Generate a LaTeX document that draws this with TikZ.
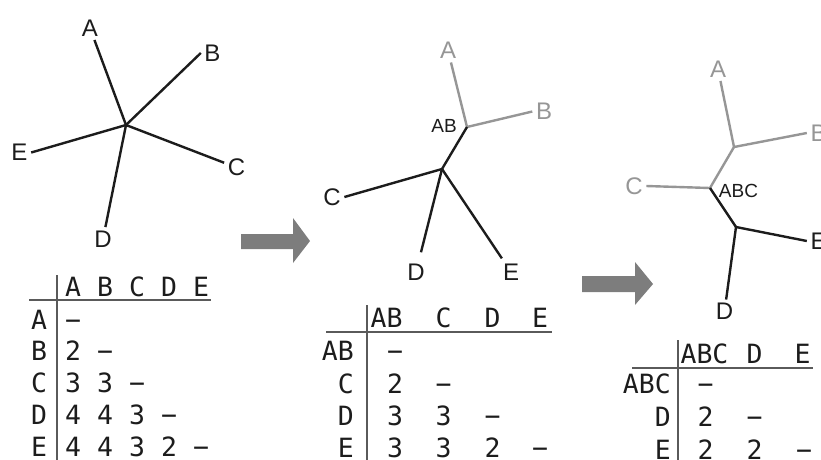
\documentclass[tikz,border=0pt]{standalone}
\usepackage{fontspec}
\setmainfont{Liberation Sans}
\newfontfamily\tabfont{DejaVu Sans Mono}
\definecolor{tgray}{RGB}{150,150,150}
\definecolor{agray}{RGB}{125,125,125}
\definecolor{ink}{RGB}{28,28,28}
\definecolor{rulegray}{RGB}{90,90,90}
\newcommand{\dsh}{\char"2212}
\begin{document}
\begin{tikzpicture}[x=1pt,y=-1pt,
  lbl/.style={font=\fontsize{24}{26}\selectfont, inner sep=3.5pt, text=ink},
  glbl/.style={lbl, text=tgray},
  slbl/.style={font=\fontsize{19}{21}\selectfont, inner sep=0pt, text=ink},
  edge/.style={line width=2.4pt, draw=ink},
  gedge/.style={line width=2.4pt, draw=tgray},
  cell/.style={font=\fontsize{26.5}{28}\selectfont\tabfont, inner sep=0pt, text height=19pt, text depth=0pt, text=ink},
  rcell/.style={cell, anchor=east},
  tabrule/.style={line width=2.2pt, draw=rulegray},
  bigarrow/.style={fill=agray}]
\useasboundingbox (0,0) rectangle (821,459);

% ---------- tree 1 ----------
\coordinate (j1) at (126,125);
\node[lbl] (a1) at (90,28) {A};
\node[lbl] (b1) at (212.5,53) {B};
\node[lbl] (e1) at (19.5,152.5) {E};
\node[lbl] (c1) at (236.5,167.5) {C};
\node[lbl] (d1) at (103,239) {D};
\draw[edge] (j1) -- (a1);
\draw[edge] (j1) -- (b1.west);
\draw[edge] (j1) -- (e1.east);
\draw[edge] (j1) -- (c1);
\draw[edge] (j1) -- (d1);

% ---------- arrow 1 ----------
\fill[bigarrow] (241,234) -- (293,234) -- (293,218) -- (310,241) -- (293,263) -- (293,249) -- (241,249) -- cycle;

% ---------- tree 2 ----------
\coordinate (j2) at (442,169);
\coordinate (jab2) at (467,127);
\node[glbl] (a2) at (448,50.5) {A};
\node[glbl] (b2) at (544,111.5) {B};
\node[lbl] (c2) at (332,197) {C};
\node[lbl] (d2) at (416,272) {D};
\node[lbl] (e2) at (511,272) {E};
\node[slbl] (ab2) at (444,126) {AB};
\draw[gedge] (jab2) -- (a2);
\draw[gedge] (jab2) -- (b2.west);
\draw[edge] (j2) -- (jab2);
\draw[edge] (j2) -- (c2.east);
\draw[edge, shorten >=8pt] (j2) -- (d2);
\draw[edge, shorten >=2pt] (j2) -- (e2);

% ---------- arrow 2 ----------
\fill[bigarrow] (582,276) -- (635,276) -- (635,262) -- (653,284) -- (635,305) -- (635,292) -- (582,292) -- cycle;

% ---------- tree 3 ----------
\coordinate (jab3) at (734,147);
\coordinate (jabc3) at (710,188);
\coordinate (jde3) at (736,227);
\node[glbl] (a3) at (718,69) {A};
\node[glbl] (b3) at (818.5,133) {B};
\node[glbl] (c3) at (634,186) {C};
\node[lbl] (e3) at (818.5,241) {E};
\node[lbl] (d3) at (724.5,311.5) {D};
\node[slbl] (abc3) at (738.5,191) {ABC};
\draw[gedge] (jab3) -- (a3);
\draw[gedge] (jab3) -- (b3.west);
\draw[gedge] (jabc3) -- (jab3);
\draw[gedge] (jabc3) -- (c3.east);
\draw[edge] (jabc3) -- (jde3);
\draw[edge] (jde3) -- (e3.west);
\draw[edge] (jde3) -- (d3);

% ---------- table 1 ----------
\draw[tabrule] (57,275) -- (57,462);
\draw[tabrule] (29,300) -- (211,300);
\node[cell] (t1hA) at (73,287) {A};
\node[cell] (t1hB) at (105,287) {B};
\node[cell] (t1hC) at (137,287) {C};
\node[cell] (t1hD) at (169,287) {D};
\node[cell] (t1hE) at (201,287) {E};
\node[cell] (t1rA) at (39,320) {A};
\node[cell] (t1rB) at (39,351) {B};
\node[cell] (t1rC) at (39,383) {C};
\node[cell] (t1rD) at (39,415) {D};
\node[cell] (t1rE) at (39,447) {E};
\node[cell] (t1AA) at (73,320) {\dsh};
\node[cell] (t1BA) at (73,351) {2};
\node[cell] (t1BB) at (105,351) {\dsh};
\node[cell] (t1CA) at (73,383) {3};
\node[cell] (t1CB) at (105,383) {3};
\node[cell] (t1CC) at (137,383) {\dsh};
\node[cell] (t1DA) at (73,415) {4};
\node[cell] (t1DB) at (105,415) {4};
\node[cell] (t1DC) at (137,415) {3};
\node[cell] (t1DD) at (169,415) {\dsh};
\node[cell] (t1EA) at (73,447) {4};
\node[cell] (t1EB) at (105,447) {4};
\node[cell] (t1EC) at (137,447) {3};
\node[cell] (t1ED) at (169,447) {2};
\node[cell] (t1EE) at (201,447) {\dsh};

% ---------- table 2 ----------
\draw[tabrule] (367,305) -- (367,462);
\draw[tabrule] (326,332) -- (552,332);
\node[cell] (t2hAB) at (386.5,317.5) {AB};
\node[cell] (t2hC) at (443.5,317.5) {C};
\node[cell] (t2hD) at (492.5,317.5) {D};
\node[cell] (t2hE) at (540,317.5) {E};
\node[rcell] (t2rAB) at (354,351) {AB};
\node[rcell] (t2rC) at (354,384) {C};
\node[rcell] (t2rD) at (354,416) {D};
\node[rcell] (t2rE) at (354,447.5) {E};
\node[cell] (t2AA) at (395,351) {\dsh};
\node[cell] (t2CA) at (395,384) {2};
\node[cell] (t2CC) at (443.5,384) {\dsh};
\node[cell] (t2DA) at (395,416) {3};
\node[cell] (t2DC) at (443.5,416) {3};
\node[cell] (t2DD) at (492.5,416) {\dsh};
\node[cell] (t2EA) at (395,447.5) {3};
\node[cell] (t2EC) at (443.5,447.5) {3};
\node[cell] (t2ED) at (492.5,447.5) {2};
\node[cell] (t2EE) at (540,447.5) {\dsh};

% ---------- table 3 ----------
\draw[tabrule] (678,340) -- (678,462);
\draw[tabrule] (632,368) -- (813,368);
\node[cell] (t3hABC) at (704.5,354) {ABC};
\node[cell] (t3hD) at (754.5,354) {D};
\node[cell] (t3hE) at (802.5,354) {E};
\node[rcell] (t3rABC) at (671,384) {ABC};
\node[rcell] (t3rD) at (671,417) {D};
\node[rcell] (t3rE) at (671,450) {E};
\node[cell] (t3AA) at (705.5,384) {\dsh};
\node[cell] (t3DA) at (705.5,417) {2};
\node[cell] (t3DD) at (754.5,417) {\dsh};
\node[cell] (t3EA) at (705.5,450) {2};
\node[cell] (t3ED) at (754.5,450) {2};
\node[cell] (t3EE) at (804,450) {\dsh};
\end{tikzpicture}
\end{document}
